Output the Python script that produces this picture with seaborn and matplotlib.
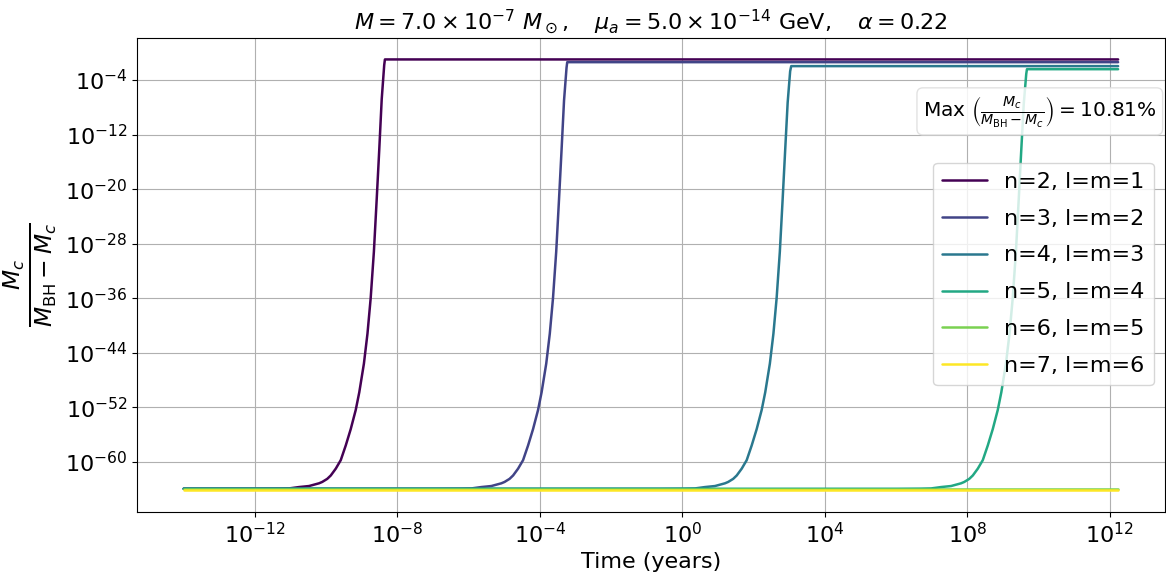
import numpy as np
import pandas as pd
import seaborn as sns
import matplotlib.pyplot as plt
from matplotlib.ticker import FixedLocator, NullLocator, LogFormatterSciNotation

# Curves as (log10 time in years, log10 Mc/(MBH-Mc))
labels = ["n=2, l=m=1", "n=3, l=m=2", "n=4, l=m=3", "n=5, l=m=4", "n=6, l=m=5", "n=7, l=m=6"]

logt_n2 = [-14.0, -12.0, -11.33, -11.04, -10.76, -10.48, -10.20, -10.11, -9.97, -9.87, -9.73, -9.59, -9.45,
           -9.31, -9.17, -9.07, -8.94, -8.84, -8.75, -8.66, -8.58, -8.51, -8.44, -8.37, -8.35, 12.24]
logy_n2 = [-63.95, -63.95, -63.93, -63.9, -63.7, -63.55, -63.15, -62.95, -62.5, -62.0, -61.0, -59.75, -57.6,
           -55.2, -52.4, -49.8, -45.6, -41.2, -36.0, -29.2, -21.4, -14.3, -6.8, -1.8, -0.97, -0.97]

logt_n3 = [-14.0, -6.88, -6.21, -5.92, -5.64, -5.36, -5.08, -4.99, -4.85, -4.75, -4.61, -4.47, -4.33,
           -4.19, -4.05, -3.95, -3.82, -3.72, -3.63, -3.54, -3.46, -3.39, -3.32, -3.25, -3.23, 12.24]
logy_n3 = [-63.95, -63.95, -63.93, -63.9, -63.7, -63.55, -63.15, -62.95, -62.5, -62.0, -61.0, -59.75, -57.6,
           -55.2, -52.4, -49.8, -45.6, -41.2, -36.0, -29.2, -21.4, -14.3, -7.0, -2.2, -1.37, -1.37]

logt_n4 = [-14.0, -0.6, 0.07, 0.36, 0.64, 0.92, 1.20, 1.29, 1.43, 1.53, 1.67, 1.81, 1.95,
           2.09, 2.23, 2.33, 2.46, 2.56, 2.65, 2.74, 2.82, 2.89, 2.96, 3.03, 3.06, 12.24]
logy_n4 = [-63.95, -63.95, -63.93, -63.9, -63.7, -63.55, -63.15, -62.95, -62.5, -62.0, -61.0, -59.75, -57.6,
           -55.2, -52.4, -49.8, -45.6, -41.2, -36.0, -29.2, -21.4, -14.3, -7.3, -2.7, -1.95, -1.95]

logt_n5 = [-14.0, 6.03, 6.70, 6.99, 7.27, 7.55, 7.83, 7.92, 8.06, 8.16, 8.30, 8.44, 8.58,
           8.72, 8.86, 8.96, 9.09, 9.19, 9.28, 9.37, 9.45, 9.52, 9.59, 9.66, 9.68, 12.24]
logy_n5 = [-63.95, -63.95, -63.93, -63.9, -63.7, -63.55, -63.15, -62.95, -62.5, -62.0, -61.0, -59.75, -57.6,
           -55.2, -52.4, -49.8, -45.6, -41.2, -36.0, -29.2, -21.4, -14.3, -7.5, -3.1, -2.4, -2.4]

logt_n6 = [-14.0, 12.24]
logy_n6 = [-63.95, -63.95]

logt_n7 = [-14.0, 12.24]
logy_n7 = [-64.2, -64.2]

max_ratio_pct = 10.81

frames = []
for lab, lt, ly in zip(labels,
                       [logt_n2, logt_n3, logt_n4, logt_n5, logt_n6, logt_n7],
                       [logy_n2, logy_n3, logy_n4, logy_n5, logy_n6, logy_n7]):
    frames.append(pd.DataFrame({"time": 10.0 ** np.array(lt),
                                "ratio": 10.0 ** np.array(ly),
                                "mode": lab}))
df = pd.concat(frames, ignore_index=True)

sns.set_style("ticks")
plt.rcParams["font.family"] = ["DejaVu Sans"]
plt.rcParams["text.color"] = "black"
plt.rcParams["axes.labelcolor"] = "black"
plt.rcParams["xtick.color"] = "black"
plt.rcParams["ytick.color"] = "black"

fig, ax = plt.subplots(figsize=(11.66, 5.74), dpi=100)
fig.subplots_adjust(left=0.1175, right=0.999, top=0.934, bottom=0.108)

palette = dict(zip(labels, plt.cm.viridis(np.linspace(0, 1, 6))))
sns.lineplot(data=df, x="time", y="ratio", hue="mode", palette=palette,
             estimator=None, sort=False, linewidth=1.8, ax=ax)

ax.set_xscale("log")
ax.set_yscale("log")
ax.grid(True, which="major", color="#b0b0b0", linewidth=0.8)

ax.xaxis.set_major_locator(FixedLocator([1e-12, 1e-8, 1e-4, 1e0, 1e4, 1e8, 1e12]))
ax.yaxis.set_major_locator(FixedLocator([10.0 ** e for e in [-60, -52, -44, -36, -28, -20, -12, -4]]))
ax.xaxis.set_minor_locator(NullLocator())
ax.yaxis.set_minor_locator(NullLocator())
ax.xaxis.set_major_formatter(LogFormatterSciNotation())
ax.yaxis.set_major_formatter(LogFormatterSciNotation())
ax.tick_params(axis="both", labelsize=16, colors="black")

for s in ax.spines.values():
    s.set_color("black")
    s.set_linewidth(0.8)

ax.set_xlabel("Time (years)", fontsize=16)
ax.set_ylabel(r"$\frac{M_c}{M_{\rm BH} - M_c}$", fontsize=24)
ax.set_title(r"$M = 7.0 \times 10^{-7}\ M_\odot, \quad \mu_a = 5.0 \times 10^{-14}\ \mathrm{GeV}, \quad \alpha = 0.22$",
             fontsize=16)

ax.text(0.992, 0.845, r"Max $\left(\frac{M_c}{M_{\rm BH} - M_c}\right) = %.2f\%%$" % max_ratio_pct,
        transform=ax.transAxes, ha="right", va="center", fontsize=14.5,
        bbox=dict(boxstyle="round,pad=0.3", facecolor="white", edgecolor="#dddddd", alpha=0.85))

ax.legend(loc="upper right", bbox_to_anchor=(1.0, 0.760), borderaxespad=0.5,
          fontsize=16, labelspacing=0.76, title=None)

fig.savefig("out.png", dpi=100)
